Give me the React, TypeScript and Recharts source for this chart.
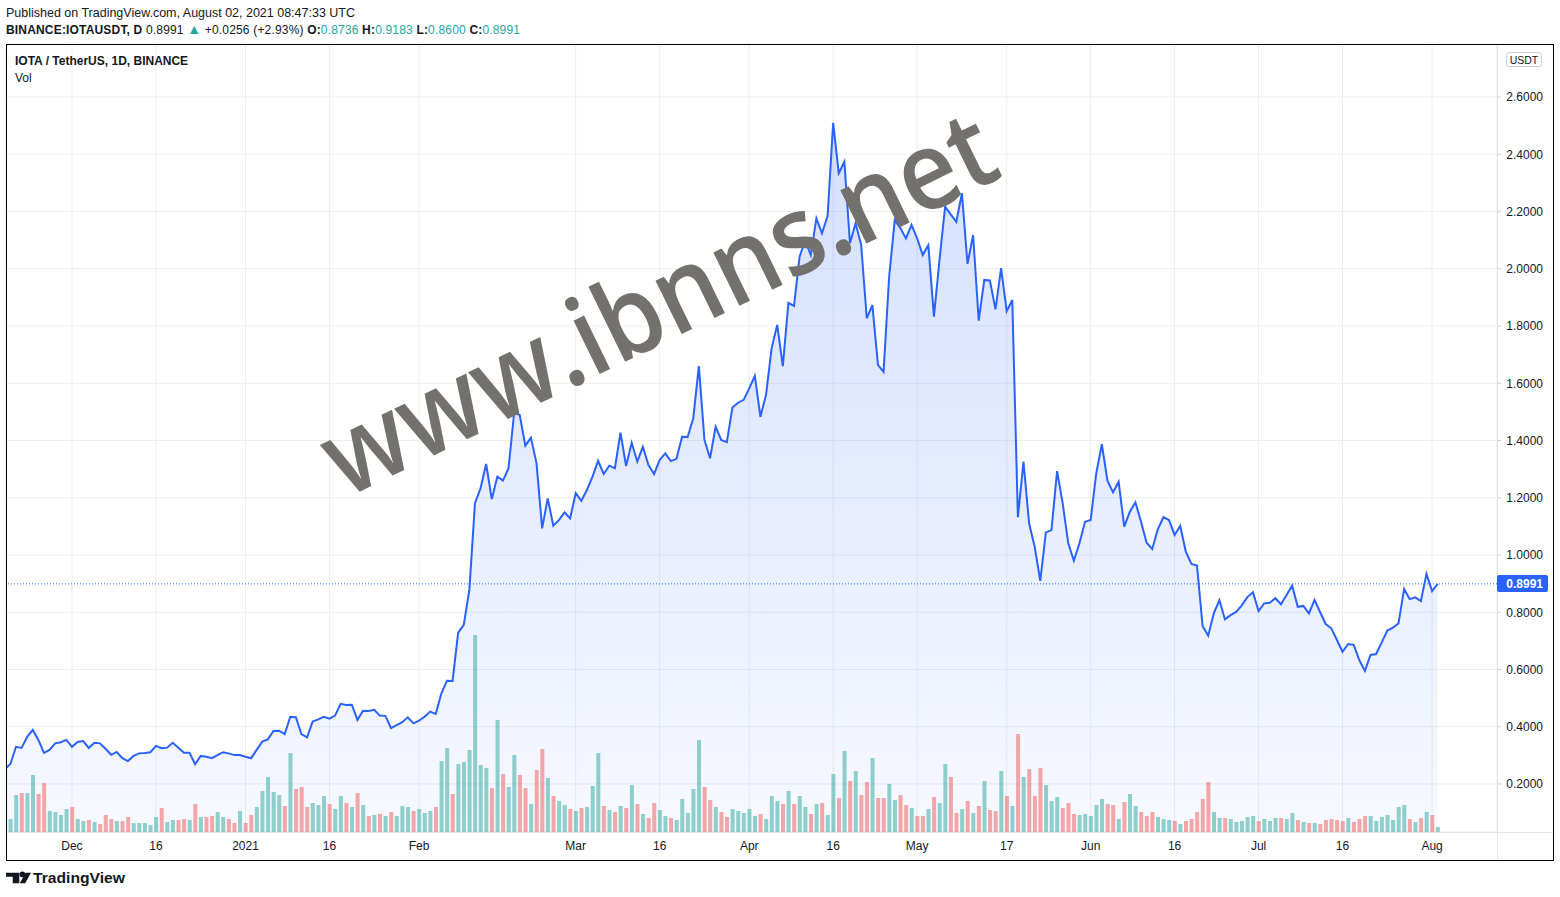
import React from 'react';
import {
  ComposedChart,
  Area,
  Line,
  Bar,
  Cell,
  XAxis,
  YAxis,
  CartesianGrid,
  ReferenceLine,
} from 'recharts';

// First value is 2020-11-19 (day index -1, partly hidden at the left edge); day 0 is 2020-11-20.
const firstDayIndex = -1;
const baseDate = Date.UTC(2020, 10, 20);

const prices: number[] = [
  0.252, 0.270, 0.330, 0.326, 0.365, 0.389, 0.354, 0.309, 0.319, 0.342,
  0.346, 0.354, 0.330, 0.347, 0.350, 0.326, 0.344, 0.342, 0.323, 0.302,
  0.312, 0.290, 0.280, 0.298, 0.307, 0.308, 0.311, 0.333, 0.325, 0.327,
  0.344, 0.327, 0.309, 0.309, 0.269, 0.298, 0.295, 0.290, 0.301, 0.311,
  0.307, 0.301, 0.301, 0.295, 0.290, 0.319, 0.348, 0.356, 0.385, 0.386,
  0.374, 0.435, 0.433, 0.374, 0.363, 0.418, 0.426, 0.435, 0.428, 0.439,
  0.480, 0.476, 0.477, 0.424, 0.456, 0.455, 0.459, 0.439, 0.438, 0.395,
  0.406, 0.416, 0.433, 0.412, 0.421, 0.435, 0.453, 0.445, 0.517, 0.561,
  0.560, 0.729, 0.756, 0.878, 1.181, 1.233, 1.318, 1.195, 1.274, 1.260,
  1.303, 1.497, 1.489, 1.382, 1.410, 1.320, 1.093, 1.198, 1.102, 1.122,
  1.149, 1.128, 1.216, 1.189, 1.227, 1.274, 1.329, 1.283, 1.312, 1.303,
  1.427, 1.311, 1.392, 1.326, 1.378, 1.314, 1.283, 1.332, 1.355, 1.328,
  1.336, 1.413, 1.412, 1.478, 1.660, 1.402, 1.338, 1.448, 1.402, 1.394,
  1.515, 1.532, 1.542, 1.582, 1.626, 1.483, 1.559, 1.722, 1.804, 1.660,
  1.881, 1.870, 2.042, 2.100, 2.048, 2.176, 2.124, 2.184, 2.510, 2.334,
  2.374, 2.089, 2.159, 2.083, 1.827, 1.873, 1.664, 1.640, 1.972, 2.170,
  2.142, 2.106, 2.153, 2.106, 2.048, 2.083, 1.833, 2.031, 2.217, 2.190,
  2.164, 2.264, 2.017, 2.118, 1.819, 1.961, 1.959, 1.858, 2.002, 1.852,
  1.891, 1.132, 1.326, 1.111, 1.029, 0.910, 1.079, 1.087, 1.293, 1.181,
  1.041, 0.980, 1.041, 1.116, 1.122, 1.285, 1.387, 1.260, 1.219, 1.256,
  1.099, 1.151, 1.184, 1.116, 1.043, 1.021, 1.090, 1.132, 1.122, 1.070,
  1.102, 1.012, 0.969, 0.963, 0.752, 0.718, 0.796, 0.842, 0.775, 0.790,
  0.801, 0.824, 0.853, 0.870, 0.804, 0.831, 0.833, 0.849, 0.828, 0.860,
  0.893, 0.819, 0.822, 0.796, 0.843, 0.800, 0.759, 0.744, 0.703, 0.662,
  0.689, 0.686, 0.633, 0.595, 0.651, 0.654, 0.694, 0.736, 0.746, 0.761,
  0.881, 0.846, 0.852, 0.839, 0.934, 0.874, 0.8991,
];

const volumes: number[] = [
  8, 13, 37, 39, 39, 57, 38, 49, 21, 20,
  17, 23, 25, 13, 11, 12, 10, 8, 17, 13,
  11, 11, 15, 9, 9, 9, 7, 15, 24, 10,
  12, 12, 13, 12, 28, 15, 15, 16, 20, 15,
  13, 9, 21, 9, 17, 25, 41, 55, 40, 37,
  26, 79, 43, 45, 25, 29, 27, 36, 28, 23,
  36, 29, 25, 39, 27, 16, 17, 18, 16, 20,
  16, 26, 25, 21, 23, 19, 21, 25, 71, 84,
  38, 68, 70, 82, 197, 67, 64, 44, 112, 58,
  45, 77, 57, 44, 28, 62, 83, 54, 36, 31,
  27, 23, 21, 24, 25, 46, 79, 26, 22, 20,
  26, 24, 47, 28, 18, 14, 29, 22, 16, 14,
  12, 33, 19, 43, 92, 45, 32, 25, 20, 15,
  23, 21, 19, 23, 16, 18, 13, 36, 31, 28,
  41, 28, 36, 25, 18, 28, 29, 17, 58, 34,
  81, 51, 61, 37, 50, 74, 34, 34, 48, 32,
  37, 27, 24, 16, 16, 23, 35, 29, 68, 55,
  19, 23, 31, 19, 26, 51, 22, 21, 61, 36,
  26, 98, 55, 63, 36, 64, 47, 31, 35, 24,
  29, 18, 17, 18, 16, 27, 33, 28, 27, 13,
  30, 38, 26, 20, 16, 20, 15, 13, 12, 11,
  8, 11, 13, 20, 33, 50, 20, 14, 14, 13,
  10, 11, 15, 16, 11, 13, 11, 14, 14, 13,
  19, 12, 10, 9, 9, 8, 12, 13, 12, 11,
  14, 10, 13, 16, 16, 11, 15, 17, 12, 25,
  27, 13, 10, 14, 20, 17, 5,
];

// g = up day (green volume), r = down day (red volume)
const volumeDirection = [
  'rggrggrrgg', 'ggrggrgrrr', 'grrgggggrg', 'grrgrgrrgg', 'rrgrrggggg',
  'rgrrrgggrg', 'grgrgrgrgr', 'gggrgggrgg', 'rggggggrgr', 'ggrrgrrgrg',
  'grgrgggrgr', 'grgrgrrggr', 'gggggrrgrr', 'gggggrgggr', 'grggrgrggr',
  'grgrrgrrgg', 'rrgrrgrggr', 'rgrgrgrrgr', 'grgrrrgggr', 'rrgggggrrg',
  'rggrrrgggr', 'grrrrrggrg', 'ggggrgggrg', 'grgrgrrrrr', 'grrrgggggg',
  'grgrgrg',
].join('');

const tickDates = [
  '2020-12-01', '2020-12-16', '2021-01-01', '2021-01-16', '2021-02-01',
  '2021-03-01', '2021-03-16', '2021-04-01', '2021-04-16', '2021-05-01',
  '2021-05-17', '2021-06-01', '2021-06-16', '2021-07-01', '2021-07-16',
  '2021-08-01',
];
const tickLabels = [
  'Dec', '16', '2021', '16', 'Feb', 'Mar', '16', 'Apr', '16', 'May',
  '17', 'Jun', '16', 'Jul', '16', 'Aug',
];
const priceTicks = [0.2, 0.4, 0.6, 0.8, 1.0, 1.2, 1.4, 1.6, 1.8, 2.0, 2.2, 2.4, 2.6];
const lastClose = 0.8991;

const dayIndex = (d: string) => {
  const [y, m, dd] = d.split('-').map(Number);
  return Math.round((Date.UTC(y, m - 1, dd) - baseDate) / 86400000);
};
const tickIndex = tickDates.map(dayIndex);

const data = prices.map((p, k) => ({
  i: k + firstDayIndex,
  price: p,
  vol: volumes[k],
  up: volumeDirection[k] === 'g',
}));

const FONT = '"Liberation Sans", Arial, sans-serif';
const TEXT = '#131722';

const XTick = (props: any) => {
  const { x, payload } = props;
  const k = tickIndex.indexOf(payload.value);
  return (
    <text x={x} y={850} textAnchor="middle" fontSize={12} fill={TEXT} fontFamily={FONT}>
      {k >= 0 ? tickLabels[k] : ''}
    </text>
  );
};

const YTick = (props: any) => {
  const { y, payload } = props;
  return (
    <g>
      <line x1={1497} x2={1501} y1={y} y2={y} stroke="#c4c7ce" strokeWidth={1} />
      <text x={1543} y={y} dy={4.3} textAnchor="end" fontSize={12} fill={TEXT} fontFamily={FONT}>
        {Number(payload.value).toFixed(4)}
      </text>
    </g>
  );
};

export default function App() {
  return (
    <div style={{ position: 'absolute', left: 0, top: 0, width: 1560, height: 897, background: '#fff', overflow: 'hidden' }}>
      <ComposedChart
        width={1560}
        height={897}
        data={data}
        margin={{ top: 44, right: 7, bottom: 37, left: 6 }}
      >
        <defs>
          <linearGradient id="areaFill" x1="0" y1="0" x2="0" y2="1">
            <stop offset="0" stopColor="#2962ff" stopOpacity={0.2} />
            <stop offset="1" stopColor="#2962ff" stopOpacity={0.04} />
          </linearGradient>
        </defs>
        <CartesianGrid stroke="#eceef2" yAxisId="price" />
        <XAxis
          dataKey="i"
          type="number"
          domain={[-0.786, 265.6]}
          allowDataOverflow
          ticks={tickIndex}
          interval={0}
          tick={<XTick />}
          tickLine={false}
          axisLine={false}
          height={28}
        />
        <YAxis
          yAxisId="price"
          orientation="right"
          width={56}
          domain={[0.0323, 2.7852]}
          allowDataOverflow
          ticks={priceTicks}
          interval={0}
          tick={<YTick />}
          tickLine={false}
          axisLine={false}
        />
        <YAxis yAxisId="vol" hide domain={[0, 788]} allowDataOverflow />
        <Area
          yAxisId="price"
          dataKey="price"
          type="linear"
          stroke="none"
          fill="url(#areaFill)"
          fillOpacity={1}
          isAnimationActive={false}
        />
        <Bar yAxisId="vol" dataKey="vol" barSize={4} isAnimationActive={false}>
          {data.map((d, k) => (
            <Cell key={k} fill={d.up ? '#26a69a' : '#ef5350'} fillOpacity={0.5} />
          ))}
        </Bar>
        <ReferenceLine yAxisId="price" y={lastClose} stroke="#2962ff" strokeDasharray="1 2" strokeWidth={1} />
        <Line
          yAxisId="price"
          dataKey="price"
          type="linear"
          stroke="#2962ff"
          strokeWidth={2}
          dot={false}
          activeDot={false}
          isAnimationActive={false}
        />
      </ComposedChart>

      <svg
        width={1560}
        height={897}
        style={{ position: 'absolute', left: 0, top: 0, pointerEvents: 'none' }}
        fontFamily={FONT}
      >
        {/* header */}
        <text x={6} y={16.5} fontSize={12.5} fill={TEXT} textLength={349} lengthAdjust="spacing">
          Published on TradingView.com, August 02, 2021 08:47:33 UTC
        </text>
        <text x={6} y={34} fontSize={12} fill={TEXT} textLength={514} lengthAdjust="spacing">
          <tspan fontWeight="bold">BINANCE:IOTAUSDT, D</tspan>
          <tspan> 0.8991 </tspan>
          <tspan fill="#26a69a" fontSize={14}>▲</tspan>
          <tspan> +0.0256 (+2.93%) </tspan>
          <tspan fontWeight="bold">O:</tspan>
          <tspan fill="#26a69a">0.8736 </tspan>
          <tspan fontWeight="bold">H:</tspan>
          <tspan fill="#26a69a">0.9183 </tspan>
          <tspan fontWeight="bold">L:</tspan>
          <tspan fill="#26a69a">0.8600 </tspan>
          <tspan fontWeight="bold">C:</tspan>
          <tspan fill="#26a69a">0.8991</tspan>
        </text>

        {/* pane legend */}
        <text x={15} y={64.5} fontSize={12} fontWeight="bold" fill={TEXT}>
          IOTA / TetherUS, 1D, BINANCE
        </text>
        <text x={15} y={82} fontSize={12} fill={TEXT}>
          Vol
        </text>

        {/* separators */}
        <line x1={1497.5} x2={1497.5} y1={44} y2={860} stroke="#e0e3eb" />
        <line x1={6} x2={1553} y1={832.5} y2={832.5} stroke="#e0e3eb" />

        {/* currency badge */}
        <rect x={1506.5} y={52.5} width={35} height={14} rx={3} fill="#fff" stroke="#c9ccd3" />
        <text x={1524} y={63.5} fontSize={10.5} textAnchor="middle" fill={TEXT}>
          USDT
        </text>

        {/* last price label */}
        <rect x={1497} y={575} width={51} height={17} rx={2} fill="#2962ff" />
        <text x={1543} y={587.8} fontSize={12} textAnchor="end" fill="#fff" fontWeight="bold">
          0.8991
        </text>

        {/* watermark */}
        <text
          transform="translate(345,499) rotate(-26.1)"
          x={0}
          y={0}
          fontSize={110}
          fontFamily='"Open Sans", sans-serif'
          fontWeight={600}
          fill="#72716d"
          textLength={735}
          lengthAdjust="spacingAndGlyphs"
        >
          www.ibnns.net
        </text>

        {/* outer frame */}
        <rect x={6.5} y={44.5} width={1547} height={816} fill="none" stroke="#000" strokeWidth={1} />

        {/* TradingView logo */}
        <path d="M6 872.7 H19.3 V883.3 H12.7 V876.7 H6 Z" fill={TEXT} />
        <circle cx={22.4} cy={874.4} r={2.9} fill={TEXT} />
        <path d="M25.6 872.7 H31 L25.2 883.3 H19.8 Z" fill={TEXT} />
        <text x={33} y={883} fontSize={15.5} fontWeight="bold" fill={TEXT} textLength={92} lengthAdjust="spacingAndGlyphs">
          TradingView
        </text>
      </svg>
    </div>
  );
}
